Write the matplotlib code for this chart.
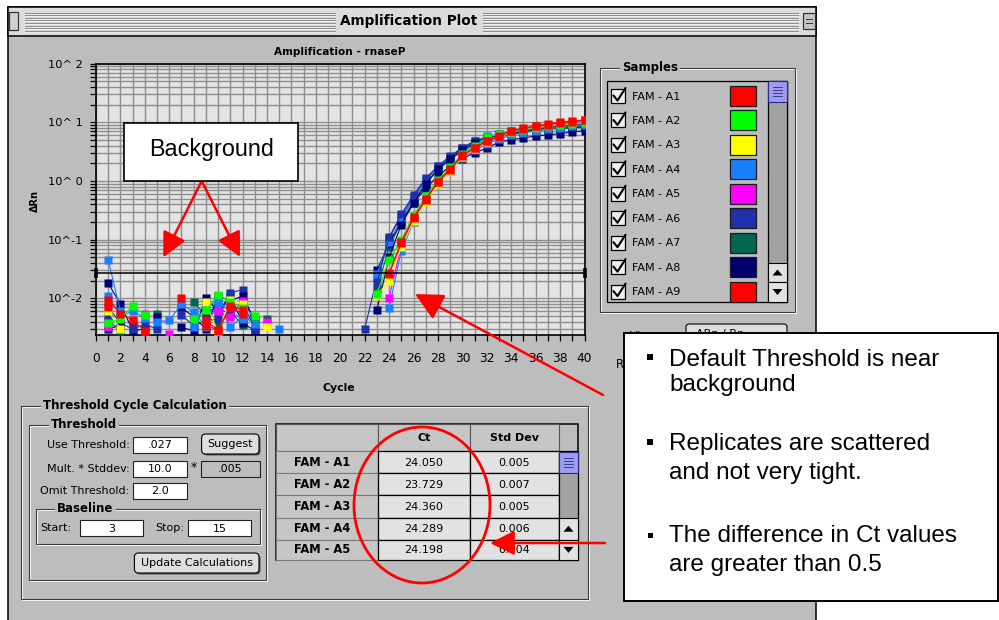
import numpy as np
import matplotlib
matplotlib.use('Agg')
import matplotlib.pyplot as plt
from matplotlib.patches import Rectangle, FancyBboxPatch, Ellipse, FancyArrowPatch, Polygon
from matplotlib.ticker import FixedLocator, FuncFormatter, NullFormatter, MultipleLocator, LogLocator

N = None
cycles = list(range(1, 41))

# ---- amplification data (delta Rn per cycle 1..40; None = not shown) ----
a1 = [0.0095, 0.0055, 0.0042, 0.0028, N, N, 0.0100, N, 0.0034, 0.0029, 0.0070, 0.0055, N, N, N,
      N, N, N, N, N, N, N, N, 0.027, 0.088, 0.23, 0.48, 0.95, 1.55, 2.7, 3.6, 4.7, 5.7, 7.0, 7.8, 8.5, 9.1, 9.8, 10.1, 10.8]
a2 = [0.0038, 0.0045, 0.0075, 0.0052, N, N, N, 0.0045, 0.0062, 0.0115, 0.0085, 0.0068, 0.0050, N, N,
      N, N, N, N, N, N, N, 0.012, 0.045, 0.10, 0.26, 0.55, 1.05, 1.7, 2.9, 3.9, 5.6, 6.2, 6.8, 7.4, 8.0, 8.5, 9.0, 9.4, 9.8]
a3 = [0.0060, 0.0030, N, N, N, N, N, N, 0.0085, 0.0026, 0.0095, 0.0080, N, 0.0033, N,
      N, N, N, N, N, N, N, 0.011, 0.020, 0.075, 0.21, 0.44, 0.90, 1.5, 2.6, 3.5, 4.6, 5.6, 6.8, 7.6, 8.4, 9.0, 9.7, 10.2, 10.9]
a4 = [0.045, 0.0060, N, N, 0.0040, 0.0042, 0.0080, 0.0058, 0.0033, 0.0082, 0.0032, 0.0050, 0.0037, N, 0.0030,
      N, N, N, N, N, N, N, N, 0.0068, 0.065, 0.20, 0.45, 0.92, 1.55, 2.5, 3.3, 4.3, 5.2, 6.0, 6.6, 7.2, 7.7, 8.1, 8.5, 8.8]
a5 = [0.0032, N, N, 0.0055, N, 0.0025, N, N, N, 0.0060, 0.0048, 0.0090, N, 0.0040, N,
      N, N, N, N, N, N, N, N, 0.010, 0.080, 0.22, 0.47, 0.93, 1.5, 2.6, 3.5, 4.6, 5.5, 6.6, 7.4, 8.1, 8.7, 9.3, 9.8, 10.3]
a6 = [0.0070, 0.0038, 0.0030, 0.0036, 0.0030, N, 0.0052, 0.0034, 0.0042, 0.0045, 0.0125, 0.0140, 0.0030, N, N,
      N, N, N, N, N, N, 0.0030, 0.022, 0.106, 0.25, 0.53, 1.08, 1.77, 2.6, 3.6, 4.7, 5.4, 6.0, 6.6, 7.1, 7.6, 7.9, 8.2, 8.5, 8.8]
a7 = [0.0042, 0.0028, N, N, 0.0055, N, N, 0.0085, 0.0050, 0.0036, 0.0060, 0.0035, N, 0.0045, N,
      N, N, N, N, N, N, N, 0.014, 0.075, 0.20, 0.45, 0.90, 1.55, 2.3, 3.2, 4.1, 4.9, 5.6, 6.2, 6.7, 7.2, 7.6, 7.9, 8.2, 8.4]
a8 = [0.0180, 0.0080, 0.0028, 0.0030, N, N, 0.0032, 0.0028, 0.0100, 0.0060, 0.0110, 0.0038, 0.0028, N, N,
      N, N, N, N, N, N, N, 0.030, 0.085, 0.20, 0.42, 0.75, 1.2, 1.8, 2.4, 3.0, 3.6, 4.6, 5.0, 5.4, 5.8, 6.1, 6.4, 6.8, 7.2]
a9 = [0.0072, N, N, 0.0027, N, N, N, N, 0.0042, 0.0028, 0.0075, 0.0062, N, N, N,
      N, N, N, N, N, N, N, N, 0.026, 0.090, 0.24, 0.49, 0.97, 1.6, 2.75, 3.7, 4.8, 5.8, 7.1, 7.9, 8.7, 9.3, 10.0, 10.4, 11.0]
a10 = [0.0110, 0.0050, 0.0060, 0.0047, N, N, N, 0.0032, 0.0075, 0.0090, 0.0058, 0.0045, 0.0045, N, N,
       N, N, N, N, N, N, N, 0.026, 0.09, 0.22, 0.50, 1.0, 1.65, 2.5, 3.4, 4.5, 5.8, 6.3, 6.8, 7.3, 7.8, 8.2, 8.6, 8.9, 9.2]
a11 = [0.0050, N, 0.0040, N, N, N, N, N, 0.0058, 0.0070, 0.0052, 0.0085, 0.0030, N, N,
       N, N, N, N, N, N, N, 0.018, 0.11, 0.27, 0.58, 1.1, 1.8, 2.65, 3.7, 4.8, 5.6, 6.2, 6.8, 7.3, 7.8, 8.2, 8.5, 8.8, 9.1]
a12 = [0.0030, 0.0035, N, N, 0.0048, N, 0.0070, 0.0048, 0.0030, 0.0110, 0.0090, 0.0110, 0.0042, N, N,
       N, N, N, N, N, N, N, 0.0063, 0.05, 0.18, 0.42, 0.88, 1.6, 2.4, 3.4, 4.4, 5.3, 6.0, 6.5, 6.9, 7.3, 7.6, 7.9, 8.1, 8.3]

series = [a1, a2, a3, a4, a5, a6, a7, a8, a9, a10, a11, a12]
sample_names = ['FAM - A1', 'FAM - A2', 'FAM - A3', 'FAM - A4', 'FAM - A5', 'FAM - A6',
                'FAM - A7', 'FAM - A8', 'FAM - A9', 'FAM - A10', 'FAM - A11', 'FAM - A12']
sample_colors = ['#FF0000', '#00FF00', '#FFFF00', '#1A7FFF', '#FF00FF', '#2030A8',
                 '#006650', '#000070', '#FF0000', '#1A7FFF', '#2030A8', '#000070']
draw_order = [6, 7, 5, 9, 10, 11, 3, 4, 2, 1, 0, 8]
legend_count = 9

x_tick_values = list(range(0, 41, 2))
y_tick_values = [1e-2, 1e-1, 1e0, 1e1, 1e2]
y_tick_labels = ['10^-2', '10^-1', '10^ 0', '10^ 1', '10^ 2']
threshold = 0.027

table_names = ['FAM - A1', 'FAM - A2', 'FAM - A3', 'FAM - A4', 'FAM - A5']
ct_values = ['24.050', '23.729', '24.360', '24.289', '24.198']
std_values = ['0.005', '0.007', '0.005', '0.006', '0.004']

callout_lines = ['Default Threshold is near', 'background', 'Replicates are scattered',
                 'and not very tight.', 'The difference in Ct values', 'are greater than 0.5']

WIN = '#BDBDBD'
UIF = 'DejaVu Sans'
ARIAL = ['Liberation Sans', 'DejaVu Sans']

fig = plt.figure(figsize=(9.99, 6.2), dpi=100)
fig.patch.set_facecolor('white')


def make_px_axes(z):
    a = fig.add_axes([0, 0, 1, 1])
    a.set_xlim(0, 999)
    a.set_ylim(620, 0)
    a.axis('off')
    a.patch.set_alpha(0)
    a.set_zorder(z)
    return a


ui = make_px_axes(0)
ov = make_px_axes(3)


def rect(a, x0, y0, x1, y1, fc, ec='black', lw=0.8, z=1):
    a.add_patch(Rectangle((x0, y0), x1 - x0, y1 - y0, facecolor=fc, edgecolor=ec, linewidth=lw, zorder=z))


def rbox(a, x0, y0, x1, y1, fc, ec='black', lw=0.8, z=1, r=4):
    a.add_patch(FancyBboxPatch((x0, y0), x1 - x0, y1 - y0, boxstyle='round,pad=0,rounding_size=%g' % r,
                               facecolor=fc, edgecolor=ec, linewidth=lw, zorder=z))


def txt(a, x, y, s, size=8, weight='normal', ha='left', va='center', color='black', family=UIF, z=5, **kw):
    return a.text(x, y, s, fontsize=size, fontweight=weight, ha=ha, va=va, color=color, family=family, zorder=z, **kw)


def groupbox(a, x0, y0, x1, y1, label, lx):
    rect(a, x0 + 1, y0 + 1, x1 + 1, y1 + 1, 'none', 'white', 0.7, z=1)
    rect(a, x0, y0, x1, y1, 'none', '#3C3C3C', 0.8, z=1)
    txt(a, lx, y0, label, 8.5, 'bold', z=3,
        bbox=dict(facecolor=WIN, edgecolor='none', pad=1.5))


def button(a, x0, y0, x1, y1, label):
    rbox(a, x0 + 1.5, y0 + 1.5, x1 + 1.5, y1 + 1.5, '#555555', 'none', 0, z=1)
    rbox(a, x0, y0, x1, y1, '#DEDEDE', 'black', 0.8, z=2)
    txt(a, (x0 + x1) / 2, (y0 + y1) / 2, label, 8, ha='center', z=3)


def field(a, x0, y0, x1, y1, s, fc='white'):
    rect(a, x0, y0, x1, y1, fc, '#222222', 0.8, z=2)
    txt(a, (x0 + x1) / 2, (y0 + y1) / 2 + 0.5, s, 8, ha='center', z=3)


def scroll_thumb(a, x0, y0, x1, y1):
    rect(a, x0, y0, x1, y1, '#9C9CF2', '#2A2A80', 0.8, z=3)
    for yy in np.arange(y0 + 6, y1 - 4, 3):
        a.plot([x0 + 5, x1 - 5], [yy, yy], color='#2A2A80', lw=0.6, zorder=4)


def arrow_box(a, x0, y0, x1, y1, up):
    rect(a, x0, y0, x1, y1, '#E2E2E2', 'black', 0.8, z=3)
    cx, cy = (x0 + x1) / 2, (y0 + y1) / 2
    if up:
        pts = [(cx - 5, cy + 3), (cx + 5, cy + 3), (cx, cy - 3)]
    else:
        pts = [(cx - 5, cy - 3), (cx + 5, cy - 3), (cx, cy + 3)]
    a.add_patch(Polygon(pts, closed=True, facecolor='black', edgecolor='none', zorder=4))


# ---------------- window ----------------
rect(ui, 8, 7, 816, 640, WIN, 'black', 1.1, z=0.5)
rect(ui, 8, 7, 816, 36, '#DCDCDC', 'black', 1.1, z=0.6)
for yy in np.arange(12.5, 31, 2.6):
    for xa, xb in [(25, 335), (483, 798)]:
        ui.plot([xa, xb], [yy, yy], color='#8C8C8C', lw=0.7, zorder=0.7)
        ui.plot([xa, xb], [yy + 1, yy + 1], color='#F4F4F4', lw=0.5, zorder=0.7)
rect(ui, 9, 12, 17.5, 30, '#D0D0D0', '#333333', 0.9, z=0.8)
rect(ui, 803, 13, 815, 29, '#C4C4C4', '#333333', 0.9, z=0.8)
ui.plot([806, 812], [19, 19], color='#333333', lw=0.7, zorder=0.9)
ui.plot([806, 812], [23, 23], color='#333333', lw=0.7, zorder=0.9)
txt(ui, 409, 21, 'Amplification Plot', 9.8, 'bold', ha='center',
    bbox=dict(facecolor='#DCDCDC', edgecolor='none', pad=2))

# ---------------- plot ----------------
txt(ui, 340, 52, 'Amplification - rnaseP', 7.6, 'bold', ha='center')
txt(ui, 339, 388, 'Cycle', 7.8, 'bold', ha='center')
txt(ui, 35, 201, '\u0394Rn', 7, 'bold', ha='center', rotation=90)

ax = fig.add_axes([96 / 999, 1 - 334.7 / 620, 488.5 / 999, 271.2 / 620])
ax.set_zorder(1)
ax.set_facecolor('#E4E4E4')
ax.set_yscale('log')
ax.set_xlim(0, 40)
ax.set_ylim(10 ** -2.62, 100)
ax.xaxis.set_major_locator(FixedLocator(x_tick_values))
ax.xaxis.set_minor_locator(MultipleLocator(1))
ax.yaxis.set_major_locator(FixedLocator(y_tick_values))
ax.yaxis.set_minor_locator(LogLocator(base=10, subs=np.arange(2, 10), numticks=30))
ax.yaxis.set_minor_formatter(NullFormatter())
ax.yaxis.set_major_formatter(FuncFormatter(lambda v, p: y_tick_labels[y_tick_values.index(v)] if v in y_tick_values else ''))
ax.grid(True, which='both', color='#8E8E8E', lw=1.0)
ax.set_axisbelow(True)
ax.tick_params(which='both', direction='out', length=4.3, width=0.9, color='black')
ax.tick_params(axis='x', which='major', labelsize=8.8, pad=8)
ax.tick_params(axis='y', which='major', labelsize=8.2, pad=5)
for lab in ax.get_xticklabels() + ax.get_yticklabels():
    lab.set_family(UIF)
for sp in ax.spines.values():
    sp.set_linewidth(1.2)
    sp.set_color('black')

for k in draw_order:
    ax.plot(cycles, np.array(series[k], dtype=float), color=sample_colors[k], lw=0.8, marker='s',
            ms=5.8, mec='none', zorder=3)

ax.plot([0, 40], [threshold, threshold], color='black', lw=1.1, zorder=4)
ax.plot([0, 40], [threshold, threshold], ls='none', marker='|', ms=7, mew=2.6,
        color='black', clip_on=False, zorder=5)

# ---------------- samples list ----------------
groupbox(ui, 600, 68, 795, 312, 'Samples', 622)
rect(ui, 607, 81, 787, 302, WIN, 'black', 0.9, z=2)
for i in range(legend_count):
    y = 96 + 24.45 * i
    rect(ui, 611, y - 7, 625, y + 7, '#EEEEEE', 'black', 0.9, z=3)
    ui.plot([613.5, 617.5, 625.5], [y - 0.5, y + 4.5, y - 8], color='black', lw=1.5, zorder=4,
            solid_capstyle='round')
    txt(ui, 632, y + 0.5, sample_names[i], 8, z=4)
    rect(ui, 730, y - 10, 756, y + 10, sample_colors[i], '#1A1A1A', 0.9, z=3)
rect(ui, 768, 81, 787, 302, '#A2A2A2', 'black', 0.9, z=2.5)
scroll_thumb(ui, 768, 81, 787, 102)
arrow_box(ui, 768, 263, 787, 282, True)
arrow_box(ui, 768, 282, 787, 302, False)

# partially hidden controls under the callout
txt(ui, 630, 336, 'View as:', 8)
rbox(ui, 686, 324, 787, 342, '#DDDDDD', 'black', 0.8, z=2, r=3)
txt(ui, 696, 334, '\u0394Rn / Rn', 8, z=3)
txt(ui, 616, 364, 'Row', 8.5)

# ---------------- threshold cycle calculation ----------------
groupbox(ui, 20.5, 406, 588, 599, 'Threshold Cycle Calculation', 43)
groupbox(ui, 28.5, 425, 265.6, 580, 'Threshold', 51)
txt(ui, 129.6, 445, 'Use Threshold:', 8, ha='right')
txt(ui, 129.6, 469, 'Mult. * Stddev:', 8, ha='right')
txt(ui, 129.6, 491, 'Omit Threshold:', 8, ha='right')
field(ui, 133, 437, 187, 453, '.027')
field(ui, 133, 461, 187, 477, '10.0')
field(ui, 133, 483, 187, 499, '2.0')
txt(ui, 194, 468, '*', 9, ha='center')
field(ui, 201, 461, 260, 477, '.005', fc=WIN)
button(ui, 201.6, 434, 259, 454, 'Suggest')
groupbox(ui, 35.6, 509, 259.7, 544, 'Baseline', 57)
txt(ui, 40.7, 528, 'Start:', 8)
field(ui, 80, 520, 143, 536, '3')
txt(ui, 155, 528, 'Stop:', 8)
field(ui, 188, 520, 251.4, 536, '15')
button(ui, 134.4, 553, 259, 573, 'Update Calculations')

# ---------------- Ct table ----------------
rect(ui, 275.5, 424, 578, 560, WIN, 'black', 1.1, z=2)
rect(ui, 275.5, 424, 378, 451, '#C6C6C6', '#555555', 0.8, z=2.2)
rect(ui, 378, 424, 469.6, 451, '#C6C6C6', '#555555', 0.8, z=2.2)
rect(ui, 469.6, 424, 559, 451, '#C6C6C6', '#555555', 0.8, z=2.2)
txt(ui, 423.7, 438, 'Ct', 8, 'bold', ha='center')
txt(ui, 514, 438, 'Std Dev', 8, 'bold', ha='center')
row_edges = [451, 473.3, 495.3, 517.7, 539.7, 560]
for i in range(len(table_names)):
    y0, y1 = row_edges[i], row_edges[i + 1]
    rect(ui, 275.5, y0, 378, y1, '#C6C6C6', '#7A7A7A', 0.8, z=2.2)
    txt(ui, 294.5, (y0 + y1) / 2, table_names[i], 8.3, 'bold', z=3)
    rect(ui, 378, y0, 469.6, y1, '#E2E2E2', 'black', 0.9, z=2.4)
    rect(ui, 469.6, y0, 559, y1, '#E2E2E2', 'black', 0.9, z=2.4)
    txt(ui, 423.7, (y0 + y1) / 2 + 0.5, ct_values[i], 8, ha='center', z=3)
    txt(ui, 514, (y0 + y1) / 2 + 0.5, std_values[i], 8, ha='center', z=3)
rect(ui, 559, 451, 578, 560, '#A2A2A2', 'black', 0.9, z=2.5)
scroll_thumb(ui, 559, 452, 578, 473)
arrow_box(ui, 559, 517.7, 578, 539.7, True)
arrow_box(ui, 559, 539.7, 578, 560, False)

# ---------------- overlay annotations ----------------
RED = '#FF0000'


def red_arrow(p0, p1, scale=15):
    ov.add_patch(FancyArrowPatch(p0, p1, arrowstyle='-|>,head_length=1.0,head_width=0.5',
                                 mutation_scale=scale, color=RED, lw=1.8,
                                 shrinkA=0, shrinkB=0, zorder=4))


rect(ov, 124.3, 123.3, 298.3, 181, 'white', 'black', 1.2, z=5)
txt(ov, 211.3, 156, 'Background', 16.8, ha='center', va='baseline', family=ARIAL, z=6)
red_arrow((201.7, 181), (163.3, 257.3))
red_arrow((201.7, 181), (240, 257))
red_arrow((603, 395), (415, 294), 17)
red_arrow((605, 543), (490, 543), 15)
ov.add_patch(Ellipse((422, 505), 136, 156, facecolor='none', edgecolor=RED, lw=2.0, zorder=4))

rect(ov, 624, 332.5, 997.5, 601, 'white', 'black', 1.4, z=6)
bullets = [(650, 357, 6), (650, 442, 6), (650, 535, 5)]
for bx, by, bs in bullets:
    rect(ov, bx - bs / 2, by - bs / 2, bx + bs / 2, by + bs / 2, 'black', 'none', 0, z=7)
baselines = [366, 391, 450, 479.5, 541.5, 570.5]
for s, yb in zip(callout_lines, baselines):
    txt(ov, 669, yb, s, 17.5, va='baseline', family=ARIAL, z=7)

fig.savefig('out.png', dpi=100)
